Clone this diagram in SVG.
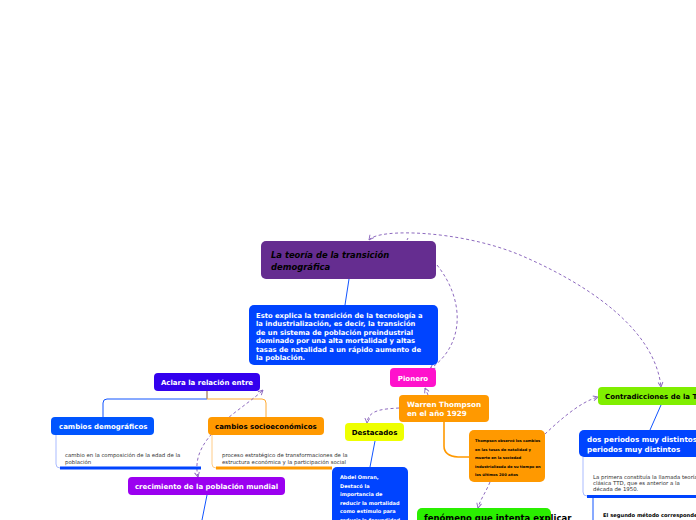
<svg xmlns="http://www.w3.org/2000/svg" width="696" height="520" viewBox="0 0 696 520">
<defs>
<marker id="ar" viewBox="0 0 10 10" refX="9" refY="5" markerWidth="6" markerHeight="6" orient="auto-start-reverse" markerUnits="userSpaceOnUse">
<path d="M1,1 L9,5 L1,9" fill="none" stroke="#8e6bbf" stroke-width="1.6"/>
</marker>
</defs>
<style>
.n{stroke:none}
.b{font-family:"DejaVu Sans",Verdana,sans-serif;font-weight:bold}
.w{fill:#fff}
.k{fill:#000}
.g{font-family:"DejaVu Sans",Verdana,sans-serif;fill:#333;font-size:5.4px}
.d{fill:none;stroke:#8e6bbf;stroke-width:1;stroke-dasharray:3,2.5}
.bl{fill:none;stroke:#1155ff;stroke-width:1}
</style>
<rect width="696" height="520" fill="#fff"/>
<g id="connectors">
<path class="bl" d="M349,279 L345,305"/>
<path class="d" d="M369,240 C378,228 460,230 520,255 C590,285 655,330 661,387" marker-end="url(#ar)" marker-start="url(#ar)"/>
<path class="d" d="M407,240 L408,238"/>
<path class="d" d="M437,265 C465,300 465,345 430,369" marker-end="url(#ar)"/>
<path class="d" d="M428,395 L425,388" marker-end="url(#ar)"/>
<path class="d" d="M399,408 C385,409 368,409 367,423" marker-end="url(#ar)"/>
<path class="bl" d="M375,441 L370,467"/>
<path d="M444,422 L444,446 Q444,456 458,457 L469,457" fill="none" stroke="#ff9900" stroke-width="1.6"/>
<path class="d" d="M545,434 C560,420 580,402 598,397" marker-end="url(#ar)"/>
<path class="d" d="M490,482 C486,492 480,500 478,508" marker-end="url(#ar)"/>
<path class="bl" d="M661,405 L650,430"/>
<path class="bl" d="M207,391 L207,399 L107,399 Q103,399 103,403 L103,417"/>
<path d="M207,391 L207,399 L262,399 Q266,399 266,403 L266,417" fill="none" stroke="#ffaa33" stroke-width="1"/>
<path class="d" d="M198,477 C193,455 205,438 228,418 C240,408 255,398 263,390" marker-start="url(#ar)" marker-end="url(#ar)"/>
<path class="bl" d="M207,495 L202,520"/>
</g>
<g id="n-teoria">
<rect class="n" x="261" y="241" width="175" height="38" rx="5" fill="#652d90"/>
<text class="b k" font-style="italic" font-size="8.4"><tspan x="271" y="257.5">La teoría de la transición</tspan><tspan x="271" y="270">demográfica</tspan></text>
</g>
<g id="n-esto">
<rect class="n" x="249" y="305" width="189" height="60" rx="5" fill="#0044ff"/>
<text class="b w" font-size="6.8"><tspan x="256" y="317.5">Esto explica la transición de la tecnología a</tspan><tspan x="256" y="326">la industrialización, es decir, la transición</tspan><tspan x="256" y="334.5">de un sistema de población preindustrial</tspan><tspan x="256" y="343">dominado por una alta mortalidad y altas</tspan><tspan x="256" y="351.5">tasas de natalidad a un rápido aumento de</tspan><tspan x="256" y="359.5">la población.</tspan></text>
</g>
<g id="n-pionero">
<rect class="n" x="390" y="368" width="46" height="19" rx="4" fill="#ff11cc"/>
<text class="b w" font-size="7" x="413" y="380.5" text-anchor="middle">Pionero</text>
</g>
<g id="n-warren">
<rect class="n" x="399" y="395" width="90" height="27" rx="4" fill="#ff9900"/>
<text class="b w" font-size="7.2"><tspan x="407" y="407">Warren Thompson</tspan><tspan x="407" y="416">en el año 1929</tspan></text>
</g>
<g id="n-destacados">
<rect class="n" x="345" y="423" width="59" height="18" rx="4" fill="#eeff00"/>
<text class="b k" font-size="7" x="374.5" y="435" text-anchor="middle">Destacados</text>
</g>
<g id="n-abdel">
<rect class="n" x="332" y="467" width="76" height="70" rx="5" fill="#0044ff"/>
<text class="b w" font-size="5"><tspan x="340" y="479">Abdel Omran,</tspan><tspan x="340" y="487.5">Destacó la</tspan><tspan x="340" y="496">importancia de</tspan><tspan x="340" y="504.5">reducir la mortalidad</tspan><tspan x="340" y="513">como estímulo para</tspan><tspan x="340" y="521.5">reducir la fecundidad</tspan></text>
</g>
<g id="n-thompson">
<rect class="n" x="469" y="430" width="76" height="52" rx="5" fill="#ff9900"/>
<text class="b k" font-size="3.7"><tspan x="475" y="442">Thompson observó los cambios</tspan><tspan x="475" y="450.5">en las tasas de natalidad y</tspan><tspan x="475" y="459">muerte en la sociedad</tspan><tspan x="475" y="467.5">industrializada de su tiempo en</tspan><tspan x="475" y="476">los últimos 200 años</tspan></text>
</g>
<g id="n-fenomeno">
<rect class="n" x="417" y="508" width="134" height="24" rx="5" fill="#2aef00"/>
<text class="b k" font-size="8.5" x="424" y="520.5">fenómeno que intenta explicar</text>
</g>
<g id="n-contradicciones">
<rect class="n" x="598" y="387" width="110" height="18" rx="4" fill="#80ee00"/>
<text class="b k" font-size="7" x="605" y="399">Contradicciones de la T</text>
</g>
<g id="n-dosperiodos">
<path d="M583,457 L583,492 Q583,496 587,496 L700,496" fill="none" stroke="#aabbff" stroke-width="1"/>
<rect class="n" x="579" y="430" width="130" height="27" rx="5" fill="#0044ff"/>
<text class="b w" font-size="7.2"><tspan x="587" y="442">dos periodos muy distintos o</tspan><tspan x="587" y="451.5">periodos muy distintos</tspan></text>
<text class="g"><tspan x="593" y="479">La primera constituía la llamada teoría</tspan><tspan x="593" y="485">clásica TTD, que es anterior a la</tspan><tspan x="593" y="491">década de 1950.</tspan></text>
<rect x="587" y="495" width="110" height="3" fill="#0044ff"/>
<path class="bl" d="M593,498 L593,520"/>
<text class="b k" font-size="5.2" x="603" y="517">El segundo método corresponde</text>
</g>
<g id="n-aclara">
<rect class="n" x="154" y="373" width="106" height="18" rx="4" fill="#3300ee"/>
<text class="b w" font-size="7" x="207" y="385" text-anchor="middle">Aclara la relación entre</text>
</g>
<g id="n-demograficos">
<path d="M56,435 L56,464 Q56,468 60,468" fill="none" stroke="#aabbff" stroke-width="1"/>
<rect class="n" x="51" y="417" width="103" height="18" rx="4" fill="#0055ff"/>
<text class="b w" font-size="7" x="59" y="429">cambios demográficos</text>
<text class="g"><tspan x="65" y="457">cambio en la composición de la edad de la</tspan><tspan x="65" y="464">población</tspan></text>
<rect x="60" y="466.5" width="141" height="3" fill="#0044ff"/>
</g>
<g id="n-socioeconomicos">
<path d="M212,435 L212,464 Q212,468 216,468" fill="none" stroke="#ffcc88" stroke-width="1"/>
<rect class="n" x="208" y="417" width="116" height="18" rx="4" fill="#ff9900"/>
<text class="b k" font-size="7" x="215" y="429">cambios socioeconómicos</text>
<text class="g"><tspan x="222" y="457">proceso estratégico de transformaciones de la</tspan><tspan x="222" y="464">estructura económica y la participación social</tspan></text>
<rect x="216" y="466.5" width="116" height="3" fill="#ff9900"/>
</g>
<g id="n-crecimiento">
<rect class="n" x="128" y="477" width="157" height="18" rx="4" fill="#9b00f0"/>
<text class="b w" font-size="7" x="206.5" y="489" text-anchor="middle">crecimiento de la población mundial</text>
</g>
</svg>
